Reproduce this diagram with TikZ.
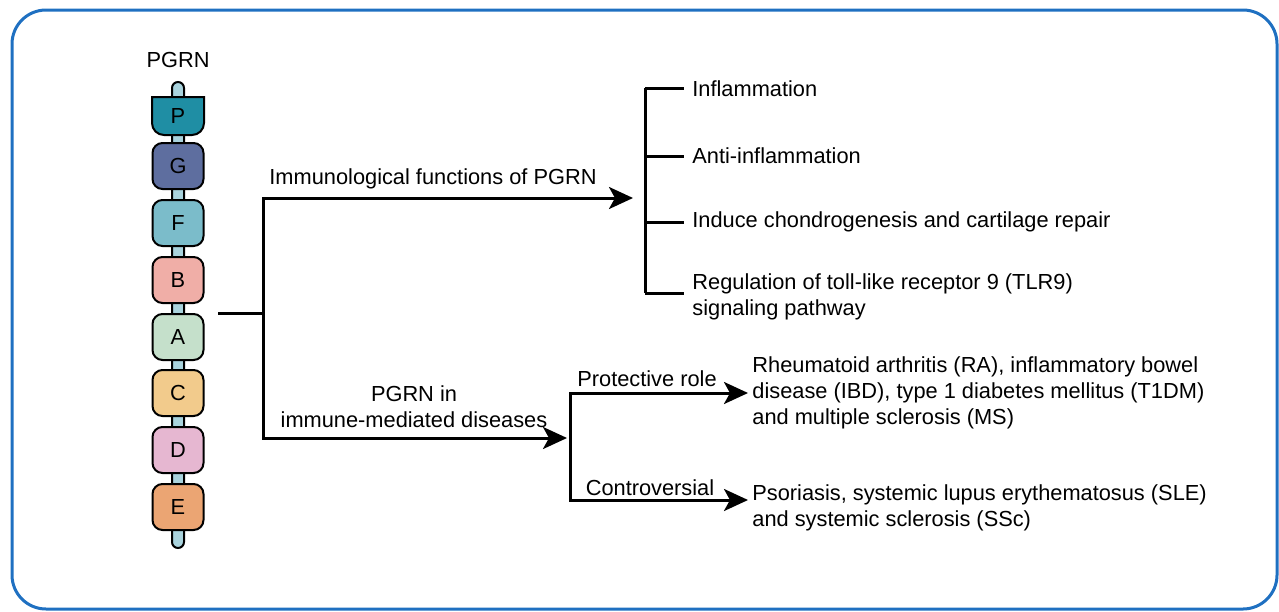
\documentclass[tikz,border=0pt]{standalone}
\usepackage{fontspec}
\setmainfont{Liberation Sans}
\usepackage{xcolor}
\usepackage{tikz}
\usetikzlibrary{positioning}
\usetikzlibrary{arrows.meta}

\definecolor{frameblue}{HTML}{1F70C1}
\definecolor{stalkblue}{HTML}{A9D3DD}
\definecolor{colP}{HTML}{1F8EA4}
\definecolor{colG}{HTML}{5E6E9F}
\definecolor{colF}{HTML}{7BBCCA}
\definecolor{colB}{HTML}{F0AEA7}
\definecolor{colA}{HTML}{C5E0CB}
\definecolor{colC}{HTML}{F2CB8C}
\definecolor{colD}{HTML}{E6B7D1}
\definecolor{colE}{HTML}{EBA573}

\begin{document}
\begin{tikzpicture}[x=0.5pt,y=-0.5pt,
    txt/.style={inner sep=0pt, font=\fontsize{10.9}{13}\selectfont},
    pgrnbox/.style={draw=black, line width=1pt, rounded corners=5pt,
        minimum width=25.5pt, minimum height=23pt, inner sep=0pt,
        font=\fontsize{10.9}{13}\selectfont},
    link/.style={line width=1.5pt},
    arrow/.style={link, -{Stealth[length=12pt,width=11pt,inset=3pt]}}]
    \useasboundingbox (0,0) rectangle (1279,611);

    % Draw frame
    \draw[frameblue, line width=1.5pt, rounded corners=17pt] (12,10) rectangle (1277,609);

    % Draw PGRN chain
    \node[txt] (pgrn) at (178,60) {PGRN};
    \draw[fill=stalkblue, draw=black, line width=1pt, rounded corners=3pt]
        (172,82) rectangle (184,548);
    \draw[fill=colP, line width=1pt] (152,97) -- (204,97) -- (204,123) arc(0:90:12)
        -- (164,135) arc(90:180:12) -- cycle;
    \node[txt] (P) at (178,116) {P};
    \foreach \name/\y in {G/166,F/223,B/280,A/337,C/393,D/450,E/507}
        \node[pgrnbox, fill=col\name] (\name) at (178,\y) {\name};

    % Draw main split
    \coordinate (stem) at (218,313);
    \coordinate (fork) at (263,313);
    \coordinate (brk) at (645,198);
    \coordinate (fork2) at (570,438);
    \draw[link] (stem) -- (fork);
    \draw[arrow, shorten >=6pt] (fork) |- (brk);
    \draw[arrow, shorten >=1.5pt] (fork) |- (fork2);
    \node[txt] (immuno) at (433,179) {Immunological functions of PGRN};
    \node[txt, align=center] (disease) at (414,407) {PGRN in\\immune-mediated diseases};

    % Functions bracket
    \node[txt, anchor=west] (infl) at (692,89) {Inflammation};
    \node[txt, anchor=west] (anti) at (692,156) {Anti-inflammation};
    \node[txt, anchor=west] (chondro) at (692,222) {Induce chondrogenesis and cartilage repair};
    \node[txt, anchor=west, align=left] (tlr) at (692,297)
        {Regulation of toll-like receptor 9 (TLR9)\\signaling pathway};
    \draw[link] (brk |- 0,88) -- (brk |- 0,293);
    \draw[link] (brk |- 0,88) -- ([xshift=-4pt]infl.west |- 0,88);
    \draw[link] (brk |- anti.west) -- ([xshift=-4pt]anti.west);
    \draw[link] (brk |- chondro.west) -- ([xshift=-4pt]chondro.west);
    \draw[link] (brk |- 0,293) -- ([xshift=-4pt]tlr.west |- 0,293);

    % Diseases split
    \node[txt, anchor=west, align=left] (ra) at (752,393)
        {Rheumatoid arthritis (RA), inflammatory bowel\\disease (IBD), type 1 diabetes mellitus (T1DM)\\and multiple sclerosis (MS)};
    \node[txt, anchor=west, align=left] (pso) at (752,508)
        {Psoriasis, systemic lupus erythematosus (SLE)\\and systemic sclerosis (SSc)};
    \coordinate (psoin) at (752,500);
    \draw[arrow, shorten >=2pt] (fork2) |- (ra.west);
    \draw[arrow, shorten >=2pt] (fork2) |- (psoin);
    \node[txt] (protect) at (647,379) {Protective role};
    \node[txt] (contro) at (650,488) {Controversial};
\end{tikzpicture}
\end{document}
